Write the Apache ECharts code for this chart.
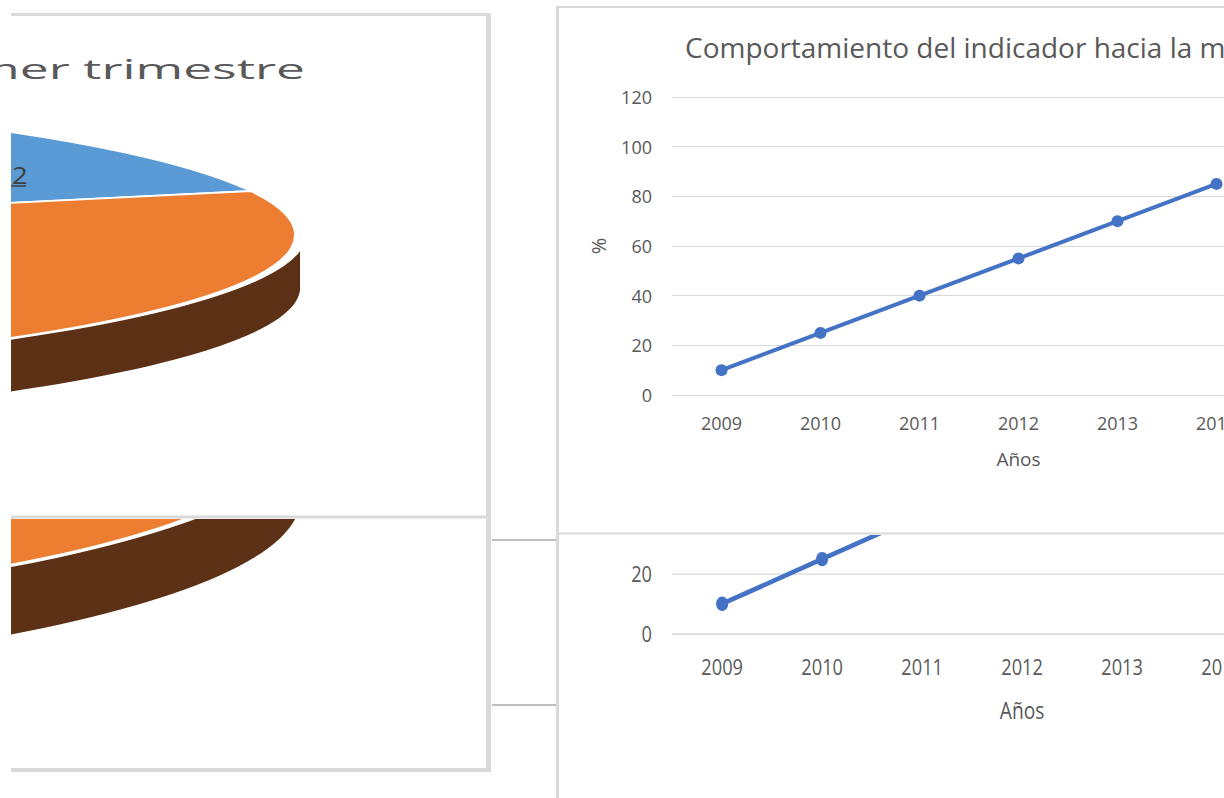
<!DOCTYPE html>
<html><head><meta charset="utf-8">
<script src="https://cdn.jsdelivr.net/npm/echarts@6/dist/echarts.min.js"></script>
<style>
html,body{margin:0;padding:0;width:1224px;height:798px;overflow:hidden;background:#fff;}
.clip{position:absolute;overflow:hidden;}
.abs{position:absolute;}
</style></head><body>
<div id="pieTopClip" class="clip" style="left:11px;top:16px;width:475px;height:500px"><div id="pieTop" class="abs"></div></div>
<div id="pieBotClip" class="clip" style="left:11px;top:519px;width:475px;height:250px"><div id="pieBot" class="abs"></div></div>
<div id="lineTopClip" class="clip" style="left:558px;top:8px;width:666px;height:525px"><div id="lineTop" class="abs" style="left:-1px;top:-1px;width:900px;height:540px"></div></div>
<div id="lineBotClip" class="clip" style="left:558px;top:535px;width:666px;height:263px"><div id="lineBot" class="abs" style="width:900px;height:540px"></div></div>
<div id="overlay" class="abs" style="left:0;top:0;width:1224px;height:798px;pointer-events:none"></div>
<script>
// ---------- data ----------
const pieNames = ['Serie 1', 'Serie 2'];
const pieValues = [20, 80];
const pieColors = ['#5B9BD5', '#ED7D31'];
const pieSideColor = '#5C3116';
const pieTitle = 'Primer trimestre';
const pieLabelText = '2';

const years = ['2009', '2010', '2011', '2012', '2013', '2014', '2015'];
const indicator = [10, 25, 40, 55, 70, 85, null];
const yMin = 0, yMax = 120, yStep = 20;
const lineTitle = 'Comportamiento del indicador hacia la meta';
const xAxisName = 'Años';
const yAxisName = '%';

// ---------- 3D-looking pie (flattened with CSS) ----------
function pie3D(el, clipLeft, clipTop, cx, cy, a, b, depth) {
  const k = b / a;
  const depthU = depth / k;
  const W = Math.round(2 * a), H = Math.round(2 * a + depthU);
  el.style.width = W + 'px';
  el.style.height = H + 'px';
  el.style.left = (cx - a - clipLeft) + 'px';
  el.style.top = (cy - k * a - clipTop) + 'px';
  el.style.transformOrigin = '0 0';
  el.style.transform = 'scaleY(' + k + ')';
  const chart = echarts.init(el, null, { renderer: 'svg', width: W, height: H });
  const series = [];
  const N = 28;
  for (let i = N; i >= 1; i--) {
    series.push({
      type: 'pie', center: [a, a + depthU * i / N], radius: [0, a], startAngle: 90,
      silent: true, animation: false, label: { show: false }, labelLine: { show: false },
      itemStyle: { color: pieSideColor, borderWidth: 0 },
      data: pieValues.map((v, j) => ({ name: pieNames[j], value: v }))
    });
  }
  series.push({
    type: 'pie', center: [a, a], radius: [0, a], startAngle: 90,
    silent: true, animation: false, label: { show: false }, labelLine: { show: false },
    itemStyle: { borderColor: '#ffffff', borderWidth: 12 },
    data: pieValues.map((v, j) => ({ name: pieNames[j], value: v, itemStyle: { color: pieColors[j] } }))
  });
  chart.setOption({ animation: false, series: series });
}
pie3D(document.getElementById('pieTop'), 11, 16, -635, 235, 935, 143, 53);
pie3D(document.getElementById('pieBot'), 11, 519, -635, 431, 935, 186, 69);

// ---------- line chart ----------
const txt = { fontFamily: 'Open Sans', color: '#595959' };
function lineOption(lowerCopy) {
  return {
    animation: false,
    title: {
      show: !lowerCopy,
      text: lineTitle, left: 123, top: 21,
      textStyle: { fontFamily: 'Open Sans', fontSize: 28, fontWeight: 'normal', color: '#595959' }
    },
    grid: { left: 115, top: 90, width: 99 * years.length, height: 298 },
    xAxis: {
      type: 'category', data: years, boundaryGap: true,
      axisLine: { lineStyle: { color: '#d9d9d9' } }, axisTick: { show: false },
      axisLabel: Object.assign({ margin: 19, fontSize: 18 }, txt),
      name: xAxisName, nameLocation: 'middle', nameGap: 54,
      nameTextStyle: Object.assign({ fontSize: 19 }, txt)
    },
    yAxis: {
      type: 'value', min: yMin, max: yMax, interval: yStep,
      axisLine: { show: false }, axisTick: { show: false },
      splitLine: { lineStyle: { color: '#d9d9d9', width: 1 } },
      axisLabel: Object.assign({
        margin: 20, fontSize: 18,
        // the lower copy is cut at its top edge: only its lowest ticks are visible
        formatter: lowerCopy ? function (v) { return v <= 20 ? String(v) : ''; } : '{value}'
      }, txt),
      name: lowerCopy ? '' : yAxisName, nameLocation: 'middle', nameRotate: 90, nameGap: 64,
      nameTextStyle: Object.assign({ fontSize: 20 }, txt)
    },
    series: [{
      type: 'line', data: indicator, symbol: 'circle', symbolSize: 12, silent: true,
      lineStyle: { width: 4, color: '#4472C4' }, itemStyle: { color: '#4472C4' }
    }]
  };
}
echarts.init(document.getElementById('lineTop'), null, { renderer: 'svg' }).setOption(lineOption(false));

// lower (vertically stretched) copy
(function () {
  const el = document.getElementById('lineBot');
  const sx = 1.01, sy = 1.2;
  const L = 722 - sx * (115 + 49.5);
  const T = 634 - sy * (90 + 298);
  el.style.left = (L - 558) + 'px';
  el.style.top = (T - 535) + 'px';
  el.style.transformOrigin = '0 0';
  el.style.transform = 'scale(' + sx + ',' + sy + ')';
  echarts.init(el, null, { renderer: 'svg' }).setOption(lineOption(true));
})();

// ---------- frames, pie title & label ----------
const border = '#d9d9d9';
function ln(x1, y1, x2, y2, w, c) {
  return { type: 'line', shape: { x1: x1, y1: y1, x2: x2, y2: y2 }, style: { stroke: c || border, lineWidth: w }, silent: true };
}
echarts.init(document.getElementById('overlay'), null, { renderer: 'svg' }).setOption({
  animation: false,
  graphic: [
    { type: 'rect', shape: { x: 0, y: 0, width: 11, height: 798 }, style: { fill: '#fff' }, silent: true },
    {
      type: 'text', x: 305, y: 68, scaleX: 1.84, silent: true,
      style: { text: pieTitle, font: '28px "Open Sans"', fill: '#595959', textAlign: 'right', textVerticalAlign: 'middle' }
    },
    {
      type: 'text', x: 12, y: 175, scaleX: 1.15, silent: true,
      style: { text: pieLabelText, font: '24px "Open Sans"', fill: '#404040', textAlign: 'left', textVerticalAlign: 'middle' }
    },
    ln(11, 186, 26, 186, 1.5, '#404040'),
    ln(11, 14.5, 491, 14.5, 3),
    ln(488.5, 13, 488.5, 772, 5),
    ln(11, 770, 491, 770, 4),
    ln(11, 517, 487, 517, 3),
    ln(492, 540, 556, 540, 2, '#bfbfbf'),
    ln(492, 705, 556, 705, 2, '#bfbfbf'),
    ln(557.5, 6, 557.5, 798, 3),
    ln(556, 7, 1224, 7, 2),
    ln(557, 533.5, 1224, 533.5, 2)
  ]
});
</script>
</body></html>
